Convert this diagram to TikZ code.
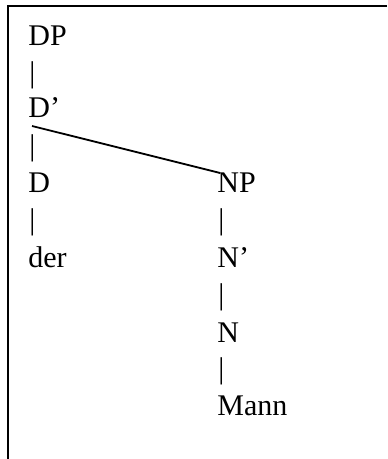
\documentclass[tikz,border=0pt]{standalone}
\usepackage{fontspec}
\setmainfont{Liberation Serif}
\begin{document}
\begin{tikzpicture}[x=0.5pt,y=-0.5pt,
  lbl/.style={inner sep=0pt, anchor=base west, font=\fontsize{15}{17}\selectfont}]
\useasboundingbox (0,0) rectangle (387,459);
% frame
\draw[line width=1pt] (387,6) -- (8,6) -- (8,459);
% left branch
\node[lbl] (dp) at (28,46) {DP};
\node[lbl] (bar1) at (29,83) {|};
\node[lbl] (dbar) at (28,118) {D’};
\node[lbl] (bar2) at (29,156) {|};
\node[lbl] (d) at (28,193) {D};
\node[lbl] (bar3) at (29,230) {|};
\node[lbl] (der) at (28,267) {der};
% right branch
\node[lbl] (np) at (217,193) {NP};
\node[lbl] (bar4) at (218,230) {|};
\node[lbl] (nbar) at (217,267) {N’};
\node[lbl] (bar5) at (218,304) {|};
\node[lbl] (n) at (217,342) {N};
\node[lbl] (bar6) at (218,378) {|};
\node[lbl] (mann) at (217,415) {Mann};
\draw[line width=0.9pt] ([shift={(4,8)}]dbar.base west) -- ([xshift=3*0.5pt]np.north west);
\end{tikzpicture}
\end{document}
